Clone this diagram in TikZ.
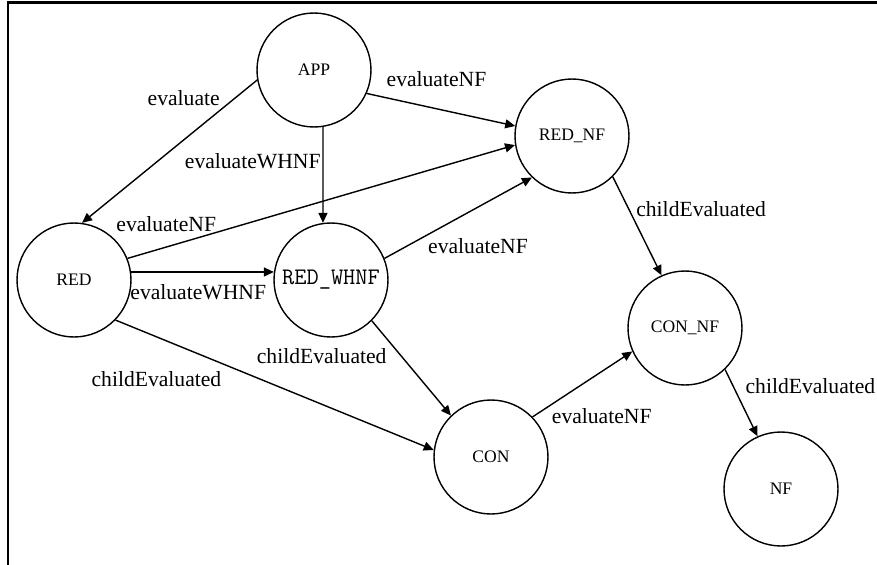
\documentclass[tikz,border=0pt]{standalone}
\usepackage{fontspec}
\setmainfont{Liberation Serif}
\usepackage{tikz}
\usetikzlibrary{arrows.meta,positioning}

\begin{document}
\begin{tikzpicture}[
  x=0.02cm, y=-0.02cm,
  state/.style={draw, circle, line width=0.8pt, minimum size=2.28cm,
    inner sep=0pt, font=\fontsize{10}{12}\selectfont},
  flow/.style={-{Triangle[length=2mm, width=1.8mm]}, line width=0.8pt},
  lbl/.style={inner sep=1pt, font=\fontsize{12.3}{14}\selectfont},
  frame/.style={line width=1.4pt}
]
  \useasboundingbox (0,0) rectangle (877,565);
  \draw[frame] (877,2.5) -- (7.8,2.5) -- (7.8,565);

  \node[state] (app) at (314,70) {APP};
  \node[state] (red) at (74,280) {RED};
  \node[state] (redwhnf) at (331,280) {\fontsize{13.5}{15}\selectfont\ttfamily RED\_WHNF};
  \node[state] (rednf) at (572,136) {RED\_NF};
  \node[state] (con) at (491,457) {CON};
  \node[state] (connf) at (685,328) {CON\_NF};
  \node[state] (nf) at (781,489) {NF};

  \draw[flow] (app.190) -- node[lbl, pos=0.2, anchor=south east]{evaluate} (red.82);
  \draw[flow] (app.-81) -- node[lbl, pos=0.36, left]{evaluateWHNF} (redwhnf.98);
  \draw[flow] (app.-24) -- node[lbl, pos=0.47, above=4mm]{evaluateNF} (rednf.170);
  \draw[flow] (red.22) -- node[lbl, pos=0.1, above=2.5mm]{evaluateNF} (rednf.189);
  \draw[flow] (red.8) -- node[lbl, pos=0.47, below=2mm]{evaluateWHNF} (redwhnf.172);
  \draw[flow] (redwhnf.22) -- node[lbl, pos=0.28, anchor=north west]{evaluateNF} (rednf.-134);
  \draw[flow] (redwhnf.-45) -- node[lbl, pos=0.375, left=2.5mm]{childEvaluated} (con.134);
  \draw[flow] (red.-44) -- node[lbl, pos=0.34, below left=1mm and 0mm]{childEvaluated} (con.173);
  \draw[flow] (rednf.-45) -- node[lbl, pos=0.33, right=1mm]{childEvaluated} (connf.114);
  \draw[flow] (con.44) -- node[lbl, pos=0.17, anchor=north west]{evaluateNF} (connf.204);
  \draw[flow] (connf.-46) -- node[lbl, pos=0.25, right=2mm]{childEvaluated} (nf.114);
\end{tikzpicture}
\end{document}
